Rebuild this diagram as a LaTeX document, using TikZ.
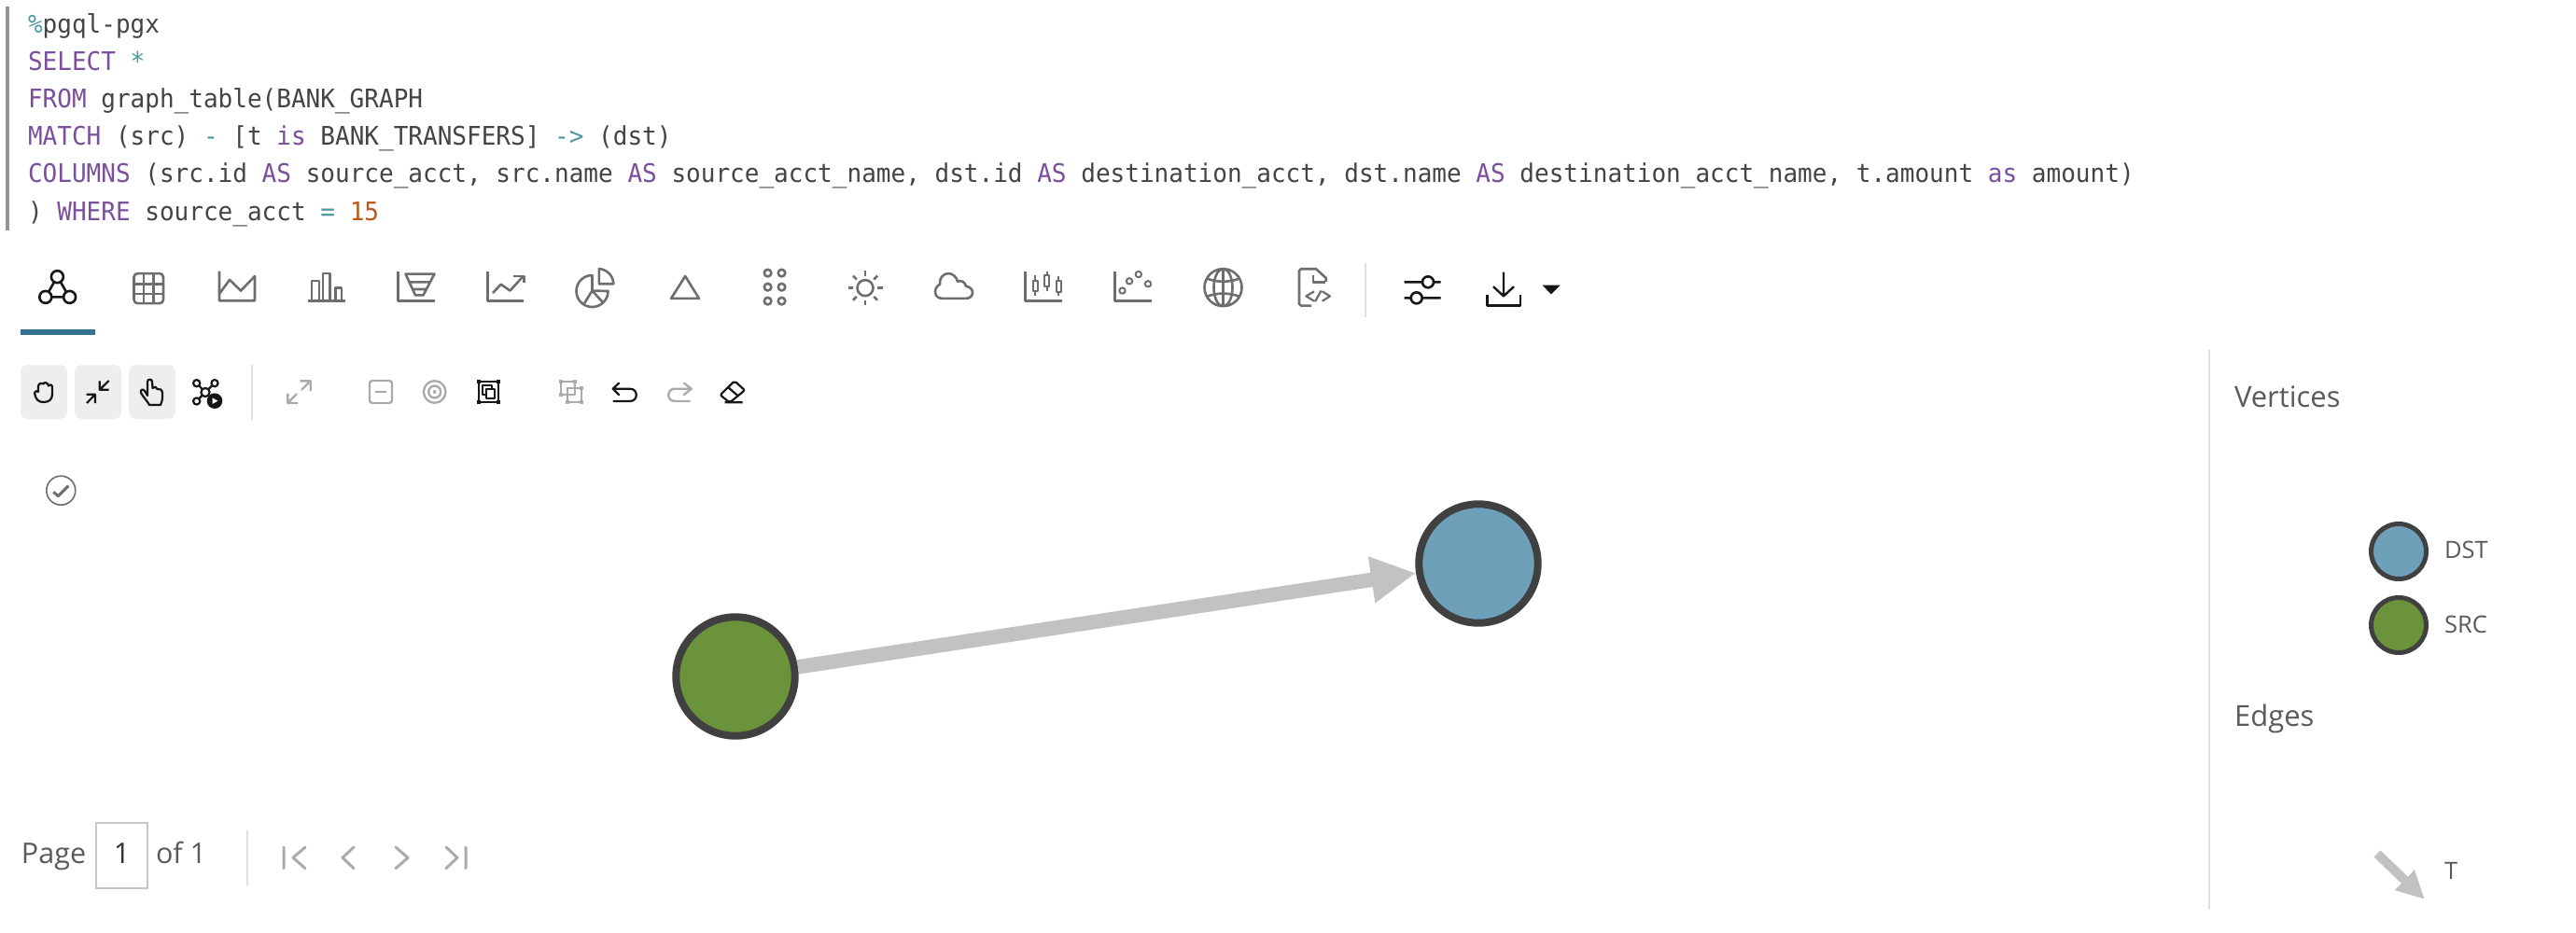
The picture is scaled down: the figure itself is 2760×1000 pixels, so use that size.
\documentclass[tikz,border=0pt]{standalone}
\usepackage{fontspec}
\setmainfont{Open Sans}
\newfontfamily\codefont[FakeStretch=0.95]{DejaVu Sans Mono}
\usetikzlibrary{arrows.meta}
\definecolor{ckwc}{HTML}{7B4F9E}
\definecolor{copc}{HTML}{4F9AA0}
\definecolor{cnumc}{HTML}{B85A1A}
\definecolor{codec}{HTML}{444444}
\definecolor{uitext}{HTML}{5A5A5A}
\definecolor{icong}{HTML}{6E6E6E}
\definecolor{icond}{HTML}{ABABAB}
\definecolor{iconk}{HTML}{161616}
\definecolor{sepc}{HTML}{E0E0E0}
\definecolor{btnc}{HTML}{EEEEEE}
\definecolor{edgec}{HTML}{C2C2C2}
\definecolor{ringc}{HTML}{404040}
\definecolor{bluev}{HTML}{6FA0B9}
\definecolor{greenv}{HTML}{6B933B}
\definecolor{tabc}{HTML}{34708F}
\newcommand{\ckw}[1]{{\color{ckwc}#1}}
\newcommand{\cop}[1]{{\color{copc}#1}}
\newcommand{\cnm}[1]{{\color{cnumc}#1}}
\tikzset{
 codeline/.style={anchor=base west,inner sep=0pt,outer sep=0pt,text=codec,font=\codefont\fontsize{27.4}{34}\selectfont},
 uilabel/.style={anchor=base west,inner sep=0pt,outer sep=0pt,text=uitext},
 vertex/.style={circle,draw=ringc,line width=8pt,minimum size=127.4pt,inner sep=0pt},
 legvertex/.style={circle,draw=ringc,line width=5pt,minimum size=59pt,inner sep=0pt},
 icongrey/.style={draw=icong,line width=2.6pt,line join=round},
 iconblack/.style={draw=iconk,line width=2.6pt,line join=round},
 icondim/.style={draw=icond,line width=2.4pt,line join=round},
 sepline/.style={draw=sepc,line width=2pt},
 btnbox/.style={fill=btnc,rounded corners=8pt},
 pagerline/.style={draw=icond,line width=3pt,line cap=round,line join=round},
}
\begin{document}
\begin{tikzpicture}[x=1pt,y=-1pt]
\useasboundingbox (0,0) rectangle (2760,1000);
\fill[white] (0,0) rectangle (2760,1000);
% code cell
\draw[draw=black!42,line width=4pt] (8,7) -- (8,247);
\node[codeline] (l1) at (30,36) {\cop{\%}pgql-pgx};
\node[codeline] (l2) at (30,76) {\ckw{SELECT} \cop{*}};
\node[codeline] (l3) at (30,116) {\ckw{FROM} graph\_table(BANK\_GRAPH};
\node[codeline] (l4) at (30,156) {\ckw{MATCH} (src) \cop{-} [t \ckw{is} BANK\_TRANSFERS] \cop{->} (dst)};
\node[codeline] (l5) at (30,196) {\ckw{COLUMNS} (src.id \ckw{AS} source\_acct, src.name \ckw{AS} source\_acct\_name, dst.id \ckw{AS} destination\_acct, dst.name \ckw{AS} destination\_acct\_name, t.amount \ckw{as} amount)};
\node[codeline] (l6) at (30,236.5) {) \ckw{WHERE} source\_acct \cop{=} \cnm{15}};
% top toolbar
\begin{scope}[y=-0.9733pt,yshift=-6.93pt]
\draw[iconblack] (61.4,297.7) circle (6.5pt) (48.8,320) circle (6.5pt) (74.6,320) circle (6.5pt);
\draw[iconblack] (58,303.5) -- (52,314.5) (65,303.5) -- (71,314.5) (55.3,320) -- (68.1,320);
\fill[tabc] (22,355.5) rectangle (102,361.7);
% table
\draw[icongrey,rounded corners=4pt] (143.5,294) rectangle (175,327);
\draw[icongrey] (154,294) -- (154,327) (164.7,294) -- (164.7,327) (143.5,305.5) -- (175,305.5) (143.5,316.5) -- (175,316.5);
% area
\draw[icongrey] (235,291.5) -- (235,324) -- (273,324) -- (273,297) -- (258,313) -- (246,301) -- (235,316.5);
% bars
\draw[icongrey] (330,324) -- (370,324);
\draw[icongrey] (334,324) -- (334,302) -- (342,302) -- (342,324) (346,324) -- (346,294) -- (353.6,294) -- (353.6,324) (359.4,324) -- (359.4,310) -- (366,310) -- (366,324);
% funnel
\draw[icongrey] (426.5,291.5) -- (426.5,324) -- (465.6,324);
\draw[icongrey] (434.5,294.5) -- (465.5,294.5) -- (453.5,318) -- (445,318) -- cycle (439,303.5) -- (461,303.5) (443,311.4) -- (457,311.4);
% trend
\draw[icongrey] (522.4,291.5) -- (522.4,324) -- (561,324);
\draw[icongrey] (528,315.5) -- (536.7,306) -- (546.5,313) -- (559.7,298);
\draw[icongrey] (550,297) -- (561.4,297) -- (561.4,304.5);
% pie
\draw[icongrey] (634.5,296) arc[start angle=90,end angle=360,radius=17pt] -- (634.5,313) -- cycle;
\draw[icongrey] (634.5,313) -- (646,326) (634.5,313) -- (626,327);
\draw[icongrey] (641.8,289) .. controls (650,289) and (657.3,297) .. (657.3,305.5) -- (641.8,305.5) -- cycle;
% triangle
\draw[icongrey] (734.2,297) -- (749,321.6) -- (719,321.6) -- cycle;
% dots
\foreach \dx in {822.6,837.5} \foreach \dy in {293.5,309,324.4} \draw[icongrey] (\dx,\dy) circle (3.8pt);
% sun
\draw[icongrey] (927,310) circle (8.5pt);
\foreach \a in {0,45,...,315} \draw[icongrey] ([shift={(\a:13pt)}]927,310) -- ([shift={(\a:18.5pt)}]927,310);
% cloud
\draw[icongrey] (1009,321.5) .. controls (1003,321.5) and (1002,316) .. (1002,314) .. controls (1002,310) and (1005,307) .. (1007,306) .. controls (1006,299) and (1011,294) .. (1016,294) .. controls (1021,294) and (1025,298) .. (1026,303) .. controls (1029,301) and (1034,303) .. (1035,308) .. controls (1040,309) and (1042,312) .. (1042,315) .. controls (1042,319) and (1039,321.5) .. (1035,321.5) -- cycle;
% candles
\draw[icongrey] (1098.6,291.5) -- (1098.6,324) -- (1137.7,324);
\draw[icongrey,line width=2pt] (1106.5,302) rectangle (1111.5,313) (1119,296) rectangle (1124,308) (1131.5,302) rectangle (1136.5,314);
\draw[icongrey,line width=2pt] (1109,296) -- (1109,302) (1109,313) -- (1109,319) (1121.6,291.5) -- (1121.6,296) (1121.6,308) -- (1121.6,313) (1134,297) -- (1134,302) (1134,314) -- (1134,319);
% scatter
\draw[icongrey] (1194.5,291.5) -- (1194.5,324) -- (1233.5,324);
\draw[icongrey,line width=2pt] (1202.5,313) circle (3.2pt) (1210,302.5) circle (3.2pt) (1219.8,295) circle (3.2pt) (1230,305.5) circle (3.2pt);
% globe
\draw[icongrey] (1310.5,309.5) circle (20pt) (1310.5,309.5) ellipse (10pt and 20pt) (1310.5,289.5) -- (1310.5,329.5);
\draw[icongrey] (1293,299.5) .. controls (1303,304) and (1318,304) .. (1328,299.5) (1293,319.5) .. controls (1303,315) and (1318,315) .. (1328,319.5);
% doc
\draw[icongrey] (1405,329.5) -- (1394,329.5) -- (1392,327.5) -- (1392,291) -- (1394,289) -- (1410,289) -- (1420.7,299) -- (1420.7,303);
\draw[icongrey] (1407,296) -- (1407,303.8) -- (1419.5,303.8);
\draw[icongrey,line width=2.2pt] (1408,313.8) -- (1399.4,319) -- (1408,324.5) (1416.7,313.8) -- (1425,319) -- (1416.7,324.5) (1415.5,313) -- (1409,325);
% separator and right tools
\draw[sepline] (1463,282.6) -- (1463,342);
\draw[iconblack] (1504.5,303.5) -- (1524,303.5) (1536,303.5) -- (1543.5,303.5) (1530,303.5) circle (6pt);
\draw[iconblack] (1504.5,321) -- (1511.7,321) (1523.7,321) -- (1543.5,321) (1517.7,321) circle (6pt);
\draw[iconblack,line width=2.4pt] (1611,292.5) -- (1611,319) (1600,308.5) -- (1611,319) -- (1622,308.5);
\draw[iconblack] (1593.5,317.5) -- (1593.5,329.5) -- (1629,329.5) -- (1629,317.5);
\fill[iconk] (1652.6,307) -- (1671.5,307) -- (1662,317) -- cycle;
\end{scope}
% graph toolbar
\fill[btnbox] (22,391) rectangle (72,449);
\fill[btnbox] (80,391) rectangle (130,449);
\fill[btnbox] (138,391) rectangle (188,449);
\draw[iconblack,line width=2.2pt] (37,421) .. controls (38,428) and (41,431) .. (46.5,431) .. controls (53,431) and (56,428) .. (56,422) -- (56,415) .. controls (56,412) and (52.5,411.5) .. (52,413.5) .. controls (51.5,410) and (47,409) .. (46.5,411.5) .. controls (45,410) and (41,411) .. (41,414) -- (41,420) .. controls (40,419) and (37,418.5) .. (37,421) -- cycle;
\draw[iconblack,line width=2.2pt] (106.7,408.3) -- (106.7,417.7) -- (116.7,417.7) (116.7,408) -- (106.7,417.7);
\draw[iconblack,line width=2.2pt] (92.7,422.7) -- (102,422.7) -- (102,432) (93,432) -- (102,422.7);
\draw[iconblack,line width=2.2pt] (158,424) -- (158,409) .. controls (158,406) and (163,406) .. (163,409) -- (163.5,416) .. controls (166,414) and (168,415) .. (168.5,417) .. controls (171,416) and (174,418) .. (174,421) -- (174,426) .. controls (174,430) and (172.5,432) .. (172,434) -- (160,434) .. controls (158,430) and (153,425) .. (151,421) .. controls (150,418) and (153,416) .. (155,419) -- cycle;
\draw[iconblack,line width=2.2pt] (210.7,410.7) circle (3.6pt) (230,410.7) circle (3.6pt) (210.7,430) circle (3.6pt) (220,420.5) circle (4.6pt);
\draw[iconblack,line width=2.2pt] (213.5,413.5) -- (216.5,417) (227,413.5) -- (223.5,417) (213.5,427) -- (216.5,424);
\fill[iconk] (230,429.7) circle (8.3pt);
\fill[white] (227.6,426.4) -- (233.4,429.7) -- (227.6,433) -- cycle;
\draw[sepline] (269.7,391) -- (269.7,450);
\draw[icondim] (321.7,408.3) -- (332.7,408.3) -- (332.7,419) (332.7,408.3) -- (323,418);
\draw[icondim] (308.3,421.7) -- (308.3,432) -- (319,432) (308.3,432) -- (318,422);
\draw[icondim,rounded corners=3pt] (396,408) rectangle (420,432);
\draw[icondim,line width=2.8pt] (402,420) -- (414,420);
\draw[icondim] (465.7,420) circle (11.8pt) (465.7,420) circle (6.5pt);
\fill[icond] (465.7,420) circle (2pt);
\draw[iconblack,line width=2.2pt] (513,409) rectangle (534.3,431);
\foreach \cx in {513,534.3} \foreach \cy in {409,431} \fill[iconk] (\cx-2,\cy-2) rectangle (\cx+2,\cy+2);
\draw[iconblack,line width=2pt] (517.3,413.3) rectangle (527.3,423.3);
\draw[iconblack,line width=2pt,fill=white] (521,417.3) rectangle (530,426.7);
\draw[icondim,line width=2pt] (601,409.3) rectangle (616,423.3) (608,416) rectangle (622.7,431);
\foreach \cx/\cy in {601/409.3,616/409.3,601/423.3,608/431,622.7/431,622.7/416} \fill[icond] (\cx-2,\cy-2) rectangle (\cx+2,\cy+2);
\draw[iconblack,line width=2.2pt,line cap=round] (657.5,430) -- (675,430) .. controls (684,430) and (684,416.7) .. (675,416.7) -- (657,416.7) (663,410.7) -- (656.7,416.7) -- (663,423);
\draw[icondim,line cap=round] (739,430) -- (723,430) .. controls (714,430) and (714,416.7) .. (723,416.7) -- (740,416.7) (733,410.7) -- (740.7,416.7) -- (733,423);
\draw[iconblack,line width=2.2pt,rounded corners=2pt] (787,408.3) -- (798,418.3) -- (781.7,431.5) -- (771.7,423.3) -- cycle;
\draw[iconblack,line width=2.2pt] (780,415) -- (790.7,424.3) (776.7,431.3) -- (795.7,431.3);
% check
\draw[icongrey,line width=1.6pt] (65.3,525.7) circle (15.5pt);
\draw[icongrey,line width=3pt] (57.3,527.3) -- (62.3,531.7) -- (73.3,520.7);
% graph
\node[vertex,fill=greenv] (src) at (788,725) {};
\node[vertex,fill=bluev] (dst) at (1584,604) {};
\draw[edgec,line width=15.5pt,-{Triangle[length=48pt,width=47pt]}] (src) -- (dst);
% pager
\node[uilabel,font=\fontsize{30.5}{36}\selectfont] (page) at (23,925.7) {Page};
\draw[draw=black!22,line width=2pt] (103,882) rectangle (158,952);
\node[anchor=base,inner sep=0pt,text=black!80,font=\fontsize{30.5}{36}\selectfont] (pnum) at (130.7,925.7) {1};
\node[uilabel,font=\fontsize{30.5}{36}\selectfont] (pof) at (167,925.7) {of 1};
\draw[sepline] (265,890) -- (265,948.7);
\draw[pagerline] (304,908) -- (304,930.7) (327,908) -- (314,919.3) -- (327,930.7);
\draw[pagerline] (379,908) -- (367,919.3) -- (379,930.7);
\draw[pagerline] (424,908) -- (437,919.3) -- (424,930.7);
\draw[pagerline] (478,908) -- (490,919.3) -- (478,930.7) (499,908) -- (499,930.7);
% legend
\draw[sepline] (2366.7,375) -- (2366.7,975);
\node[uilabel,font=\fontsize{31}{36}\selectfont] (vert) at (2394,436) {Vertices};
\node[uilabel,font=\fontsize{31}{36}\selectfont] (edges) at (2394,778.5) {Edges};
\node[legvertex,fill=bluev] (legdst) at (2570,591) {};
\node[legvertex,fill=greenv] (legsrc) at (2570,670) {};
\node[uilabel,font=\fontsize{25.5}{30}\selectfont] (ldst) at (2619,598) {DST};
\node[uilabel,font=\fontsize{25.5}{30}\selectfont] (lsrc) at (2619,678) {SRC};
\node[uilabel,font=\fontsize{25.5}{30}\selectfont] (lt) at (2619,942) {T};
\coordinate (legtail) at (2547,915);
\coordinate (legtip) at (2598,964);
\draw[edgec,line width=10pt,-{Triangle[length=30pt,width=28pt]}] (legtail) -- (legtip);
\end{tikzpicture}
\end{document}
